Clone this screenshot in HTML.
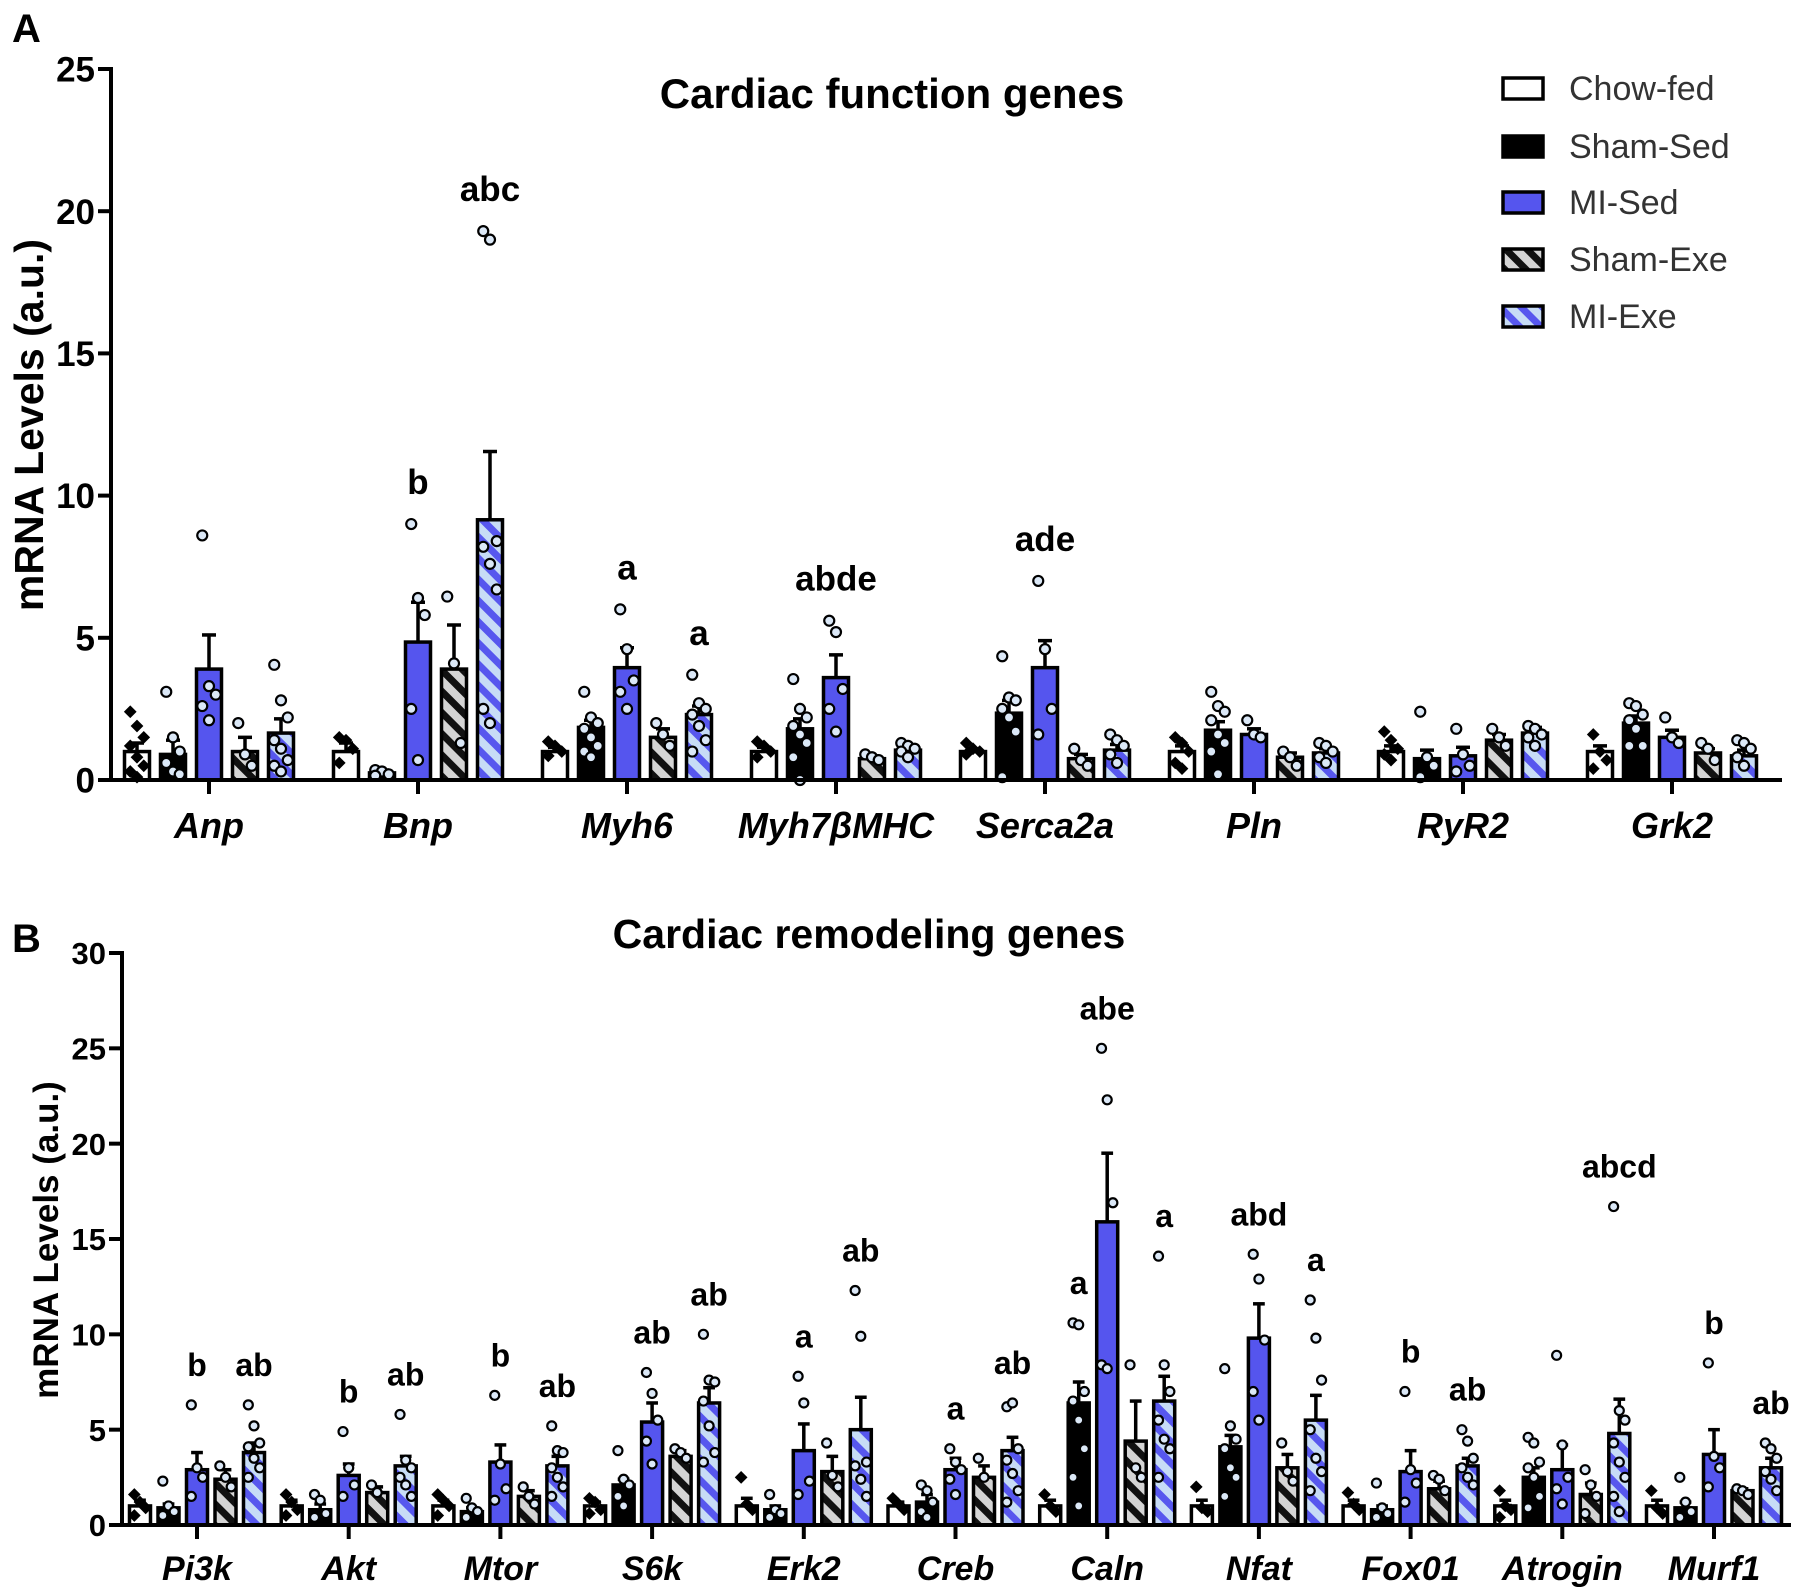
<!DOCTYPE html>
<html><head><meta charset="utf-8"><style>
html,body{margin:0;padding:0;background:#fff;}
svg{display:block;font-family:"Liberation Sans",Arial,sans-serif;}
</style></head><body>
<svg id="chart" width="1800" height="1591" viewBox="0 0 1800 1591" xmlns="http://www.w3.org/2000/svg">
<defs>
<pattern id="pShamExe" patternUnits="userSpaceOnUse" width="15" height="15" patternTransform="rotate(-45)">
<rect width="15" height="15" fill="#d4d4d4"/><rect width="7" height="15" fill="#111"/></pattern>
<pattern id="pMIExe" patternUnits="userSpaceOnUse" width="15" height="15" patternTransform="rotate(-45)">
<rect width="15" height="15" fill="#c7dcf6"/><rect width="7" height="15" fill="#5757ee"/></pattern>
</defs>
<text x="12" y="42" font-size="40" font-weight="bold">A</text>
<text x="12" y="952" font-size="40" font-weight="bold">B</text>
<text x="892" y="108" font-size="42" font-weight="bold" text-anchor="middle">Cardiac function genes</text>
<text x="869" y="948" font-size="41" font-weight="bold" text-anchor="middle">Cardiac remodeling genes</text>
<text transform="translate(43,425) rotate(-90)" font-size="41" font-weight="bold" text-anchor="middle">mRNA Levels (a.u.)</text>
<text transform="translate(58,1240) rotate(-90)" font-size="35" font-weight="bold" text-anchor="middle">mRNA Levels (a.u.)</text>
<g id="legend"></g>
<g id="panelA"></g>
<g id="panelB"></g>
</svg>
<script>
const groups = ["Chow-fed","Sham-Sed","MI-Sed","Sham-Exe","MI-Exe"];
const fills = ["#ffffff","#000000","#5555ee","url(#pShamExe)","url(#pMIExe)"];

const catsA = ["Anp","Bnp","Myh6","Myh7\u03B2MHC","Serca2a","Pln","RyR2","Grk2"];
const meanA = [[1.0,0.9,3.9,1.0,1.65],[1.0,0.25,4.85,3.9,9.15],[1.0,1.85,3.95,1.5,2.3],[1.0,1.8,3.6,0.75,1.05],[1.0,2.35,3.95,0.75,1.05],[1.0,1.75,1.6,0.8,0.95],[1.0,0.75,0.85,1.4,1.65],[1.0,2.0,1.5,0.95,0.85]];
const errA = [[0.3,0.5,1.2,0.5,0.5],[0.3,0.1,1.4,1.55,2.4],[0.15,0.25,0.7,0.3,0.3],[0.15,0.35,0.8,0.1,0.15],[0.1,0.45,0.95,0.15,0.2],[0.2,0.3,0.2,0.15,0.15],[0.2,0.3,0.3,0.2,0.2],[0.2,0.25,0.25,0.15,0.2]];
const ptsA = [
[[2.4,1.9,1.5,1.2,0.8,0.5,0.3,0.1],[3.1,1.5,1.0,0.6,0.3,0.2],[8.6,3.3,3.0,2.6,2.1],[2.0,0.9,0.5],[4.05,2.8,2.2,1.4,1.1,0.7,0.5,0.3]],
[[1.5,1.4,1.1,0.6],[0.35,0.3,0.2,0.15],[9.0,6.4,5.8,2.5,0.7],[6.45,4.1,1.3],[19.3,19.0,8.4,8.2,7.6,6.7,2.5,2.0]],
[[1.35,1.2,1.0,0.85],[3.1,2.2,2.0,1.8,1.5,1.2,1.0,0.8],[6.0,4.6,3.5,3.1,2.5],[2.0,1.6,1.2],[3.7,2.7,2.5,2.3,1.9,1.4,1.0]],
[[1.35,1.2,1.0,0.8],[3.55,2.5,2.2,1.9,1.6,1.3,0.8,0.0],[5.6,5.2,3.2,2.5,1.7],[0.9,0.8,0.7],[1.3,1.2,1.1,1.0,0.8]],
[[1.3,1.1,1.0,0.9],[4.35,2.9,2.8,2.5,2.2,1.7,0.1],[7.0,4.6,2.5,1.6],[1.1,0.7,0.5],[1.6,1.4,1.2,0.9,0.6]],
[[1.5,1.3,1.0,0.6,0.4],[3.1,2.6,2.4,2.1,1.6,1.3,1.0,0.2],[2.1,1.6,1.5],[1.0,0.8,0.5],[1.3,1.2,1.0,0.8,0.6]],
[[1.7,1.4,1.1,0.9,0.7],[2.4,0.8,0.5,0.1],[1.8,0.9,0.5,0.3],[1.8,1.5,1.2],[1.9,1.8,1.6,1.5,1.2]],
[[1.6,1.0,0.7,0.4],[2.7,2.6,2.3,2.1,1.8,1.2,1.2],[2.2,1.5,1.3],[1.3,1.1,0.7],[1.4,1.3,1.1,0.8,0.5]]];
const lettersA = [["","","","",""],["","","b","","abc"],["","","a","","a"],["","","abde","",""],["","","ade","",""],["","","","",""],["","","","",""],["","","","",""]];
const ticksA = [0,5,10,15,20,25];

const catsB = ["Pi3k","Akt","Mtor","S6k","Erk2","Creb","Caln","Nfat","Fox01","Atrogin","Murf1"];
const meanB = [[1.0,0.9,2.9,2.4,3.8],[1.0,0.8,2.6,1.7,3.1],[1.0,0.7,3.3,1.5,3.1],[1.0,2.1,5.4,3.6,6.4],[1.0,0.8,3.9,2.8,5.0],[1.0,1.2,2.9,2.5,3.9],[1.0,6.4,15.9,4.4,6.5],[1.0,4.1,9.8,3.0,5.5],[1.0,0.8,2.8,1.9,3.1],[1.0,2.5,2.9,1.6,4.8],[1.0,0.9,3.7,1.8,3.0]];
const errB = [[0.3,0.2,0.9,0.5,0.5],[0.3,0.3,0.6,0.3,0.5],[0.3,0.2,0.9,0.3,0.5],[0.2,0.3,1.0,0.3,0.8],[0.4,0.2,1.4,0.8,1.7],[0.2,0.4,0.6,0.6,0.7],[0.3,1.1,3.6,2.1,1.3],[0.3,0.6,1.8,0.7,1.3],[0.3,0.2,1.1,0.4,0.4],[0.3,0.5,1.3,0.6,1.8],[0.3,0.3,1.3,0.1,0.5]];
const ptsB = [
[[1.6,1.2,0.9,0.5],[2.3,1.0,0.7,0.5],[6.3,3.0,2.5,1.5],[3.1,2.5,2.0],[6.3,5.2,4.3,4.1,3.5,3.0,2.5]],
[[1.6,1.2,0.8,0.5],[1.6,1.3,0.6,0.4],[4.9,3.0,2.1,1.5],[2.1,1.7],[5.8,3.4,3.0,2.5,2.1,1.5]],
[[1.6,1.3,1.0,0.5],[1.4,0.9,0.7,0.4],[6.8,3.2,1.9,1.3],[2.0,1.5,1.1],[5.2,3.9,3.8,3.0,2.5,2.0,1.5]],
[[1.4,1.2,0.8,0.6],[3.9,2.4,2.1,1.5,1.0],[8.0,6.9,5.5,4.4,3.2],[4.0,3.8,3.5],[10.0,7.6,7.5,6.5,5.2,3.8,3.3]],
[[2.5,1.1,0.8],[1.6,0.8,0.6,0.4],[7.8,6.4,2.3,1.6],[4.3,2.6,2.0],[12.3,9.9,3.3,3.1,2.4,1.5]],
[[1.4,1.1,0.8],[2.1,1.8,1.2,0.7,0.4],[4.0,3.3,2.9,2.4,1.6],[3.5,2.5],[6.2,6.4,4.0,3.4,2.7,1.8,1.2]],
[[1.6,1.0,0.7],[10.6,10.5,7.0,6.5,5.5,4.0,2.5,1.0],[25.0,22.3,16.9,8.4,8.2],[8.4,3.0,2.5],[14.1,8.4,7.0,5.5,4.5,4.0,2.5]],
[[2.0,0.9,0.7],[8.2,5.2,4.5,4.0,3.0,2.5,1.5],[14.2,12.9,9.7,7.0,5.5],[4.3,2.8,2.3],[11.8,9.8,7.6,5.0,3.5,2.8,1.8]],
[[1.7,1.1,0.8],[2.2,0.9,0.6,0.4],[7.0,2.9,2.2,1.2],[2.6,2.4,1.8],[5.0,4.4,3.5,3.0,2.5,2.1]],
[[1.8,1.0,0.8,0.4],[4.6,4.3,3.3,3.0,2.5,1.5,0.9],[8.9,4.2,2.5,1.9,1.1],[2.9,2.1,1.5,0.6],[16.7,6.0,5.5,4.3,3.3,2.5,1.5,0.7]],
[[1.8,0.9,0.6],[2.5,1.2,0.7,0.4],[8.5,3.6,3.0,2.0],[1.9,1.8,1.6],[4.3,4.0,3.5,2.8,2.4,1.8]]];
const lettersB = [["","","b","","ab"],["","","b","","ab"],["","","b","","ab"],["","","ab","","ab"],["","","a","","ab"],["","","a","","ab"],["","a","abe","","a"],["","","abd","","a"],["","","b","","ab"],["","","","","abcd"],["","","b","","ab"]];
const ticksB = [0,5,10,15,20,25,30];

const NS = "http://www.w3.org/2000/svg";
function mk(tag, attrs, parent, text){
  const e = document.createElementNS(NS, tag);
  for (const k in attrs) e.setAttribute(k, attrs[k]);
  if (text !== undefined) e.textContent = text;
  parent.appendChild(e); return e;
}

function drawPanel(g, cfg, cats, means, errs, pts, letters, ticks){
  const yMax = ticks[ticks.length-1];
  const yScale = v => cfg.y0 - v/yMax*(cfg.y0-cfg.yTop);
  const xCat = i => cfg.c0 + i*cfg.step;
  const ya = mk("line",{x1:cfg.ax,y1:cfg.yTop-2,x2:cfg.ax,y2:cfg.y0+2,stroke:"#000","stroke-width":4},g);
  
  
  ticks.forEach(t=>{
    const y = yScale(t);
    const tk = mk("line",{x1:cfg.ax-13,y1:y,x2:cfg.ax,y2:y,stroke:"#000","stroke-width":4},g);
    
    
    const tl = mk("text",{x:cfg.ax-16,y:y+cfg.tfs*0.36,"font-size":cfg.tfs,"font-weight":"bold","text-anchor":"end"},g,String(t));
    
    
  });
  cats.forEach((c,i)=>{
    const cx = xCat(i);
    const ct = mk("line",{x1:cx,y1:cfg.y0,x2:cx,y2:cfg.y0+14,stroke:"#000","stroke-width":4},g);
    
    
    const cl = mk("text",{x:cx,y:cfg.labY,"font-size":cfg.cfs,"font-weight":"bold","font-style":"italic","text-anchor":"middle"},g,c);
    
    
    for (let k=0;k<5;k++){
      const bx = cx + (k-2)*cfg.bstep;
      const m = means[i][k], e = errs[i][k];
      const yt = yScale(m);
      const eb = mk("line",{x1:bx,y1:yt,x2:bx,y2:yScale(m+e),stroke:"#000","stroke-width":3.5},g);
      
      
      const ec = mk("line",{x1:bx-cfg.bw*0.28,y1:yScale(m+e),x2:bx+cfg.bw*0.28,y2:yScale(m+e),stroke:"#000","stroke-width":3.5},g);
      
      
      const r = mk("rect",{x:bx-cfg.bw/2,y:yt,width:cfg.bw,height:Math.max(0,cfg.y0-yt),fill:fills[k],stroke:"#000","stroke-width":3.5},g);
      
      
      let top = yScale(m+e);
      pts[i][k].forEach((v,j)=>{
        const px = bx + ((j%3)-1)*cfg.bw*0.27;
        const py = yScale(v);
        top = Math.min(top, py);
        if (k===0){
          const d = mk("rect",{x:px-4.5,y:py-4.5,width:9,height:9,fill:"#000",transform:`rotate(45 ${px} ${py})`},g);
          
          
        } else {
          const p = mk("circle",{cx:px,cy:py,r:cfg.pr,fill:"#dbe8f7",stroke:"#000","stroke-width":2.2},g);
          
          
        }
      });
      if (letters[i][k]){
        const lt = mk("text",{x:bx,y:top-cfg.lofs,"font-size":cfg.lfs,"font-weight":"bold","text-anchor":"middle"},g,letters[i][k]);
        
        
      }
    }
  });
  const xa = mk("line",{x1:cfg.ax-2,y1:cfg.y0,x2:cfg.xEnd,y2:cfg.y0,stroke:"#000","stroke-width":4},g);
  
  
}

drawPanel(document.getElementById("panelA"),
  {ax:111,y0:780,yTop:69,xEnd:1782,c0:209,step:209,bstep:36,bw:25,pr:5,tfs:35,cfs:36,labY:838,lfs:35,lofs:30},
  catsA,meanA,errA,ptsA,lettersA,ticksA);
drawPanel(document.getElementById("panelB"),
  {ax:122,y0:1525,yTop:953,xEnd:1791,c0:197,step:151.7,bstep:28.5,bw:21,pr:4.5,tfs:31,cfs:34,labY:1580,lfs:32,lofs:29},
  catsB,meanB,errB,ptsB,lettersB,ticksB);

const lg = document.getElementById("legend");
const legY = [88,146,202,259,316];
groups.forEach((n,k)=>{
  const r = mk("rect",{x:1503,y:legY[k]-10,width:40,height:21,fill:fills[k],stroke:"#000","stroke-width":3.5},lg);
  
  
  const t = mk("text",{x:1569,y:legY[k]+12,"font-size":34,fill:"#333"},lg,n);
  
  
});
</script>
</body></html>
